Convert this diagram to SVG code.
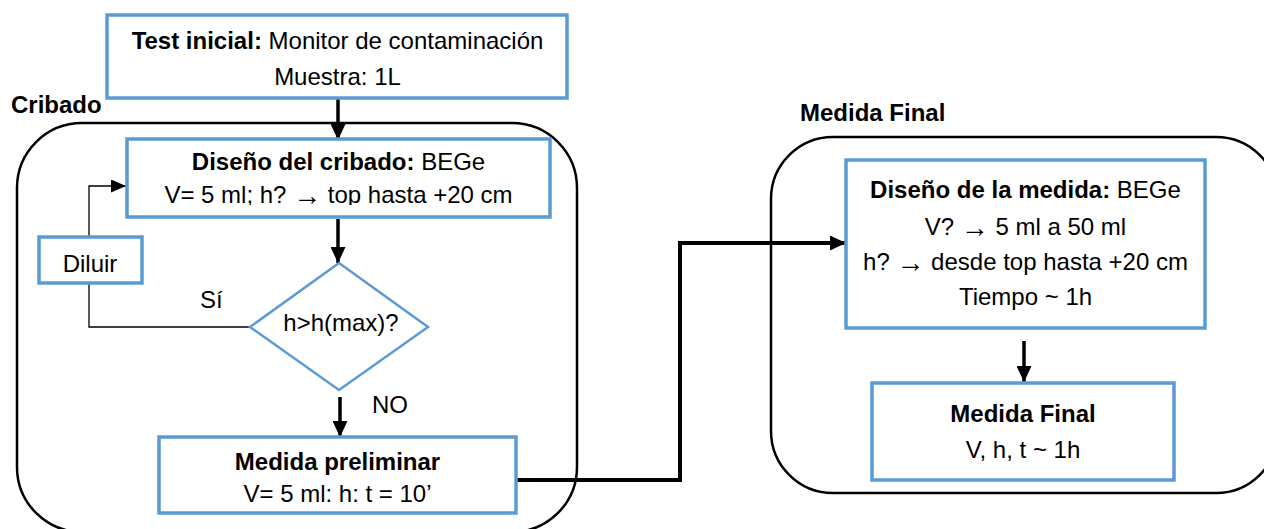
<svg xmlns="http://www.w3.org/2000/svg" width="1264" height="529" viewBox="0 0 1264 529">
<style>
text{font-family:"Liberation Sans",Arial,sans-serif;font-size:24px;fill:#000;}
.b{font-weight:bold;}
.c{text-anchor:middle;}
.ar{font-size:28px;font-weight:bold;baseline-shift:-1.5px;}
.box{fill:#fff;stroke:#5B9BD5;stroke-width:3.5;}
.dia{fill:#fff;stroke:#5B9BD5;stroke-width:2.5;}
.cont{fill:none;stroke:#000;stroke-width:2.5;}
.thick{fill:none;stroke:#000;stroke-width:3.5;}
.main{fill:none;stroke:#000;stroke-width:4;}
.thin{fill:none;stroke:#000;stroke-width:1.3;}
</style>
<defs>
<marker id="ah" markerUnits="userSpaceOnUse" markerWidth="16" markerHeight="15" refX="16" refY="7.5" orient="auto">
<path d="M0,0 L16,7.5 L0,15 z" fill="#000"/>
</marker>
<marker id="ahs" markerUnits="userSpaceOnUse" markerWidth="15" markerHeight="13" refX="15" refY="6.5" orient="auto">
<path d="M0,0 L15,6.5 L0,13 z" fill="#000"/>
</marker>
<clipPath id="clipCrib"><rect x="127" y="139" width="423" height="66"/></clipPath>
</defs>

<g id="cribado-group">
<rect class="cont" x="17" y="123" width="560" height="409" rx="65" ry="65"/>
<text class="b" x="11" y="113">Cribado</text>
</g>
<g id="medida-final-group">
<rect class="cont" x="771" y="137" width="507" height="356" rx="62" ry="62"/>
<text class="b" x="800" y="121">Medida Final</text>
</g>

<g id="connectors">
<path class="thick" d="M338,98 L338,140" marker-end="url(#ah)"/>
<path class="thick" d="M338,219 L338,263" marker-end="url(#ah)"/>
<path class="thick" d="M340,397 L340,437" marker-end="url(#ah)"/>
<path class="thin" d="M250,327 L89,327 L89,283"/>
<path class="thin" d="M89,237 L89,186 L126,186" marker-end="url(#ahs)"/>
<path class="main" d="M516,480 L680,480 L680,243 L846,243" marker-end="url(#ah)"/>
<path class="thick" d="M1024,341 L1024,382" marker-end="url(#ah)"/>
</g>

<g id="test-inicial">
<rect class="box" x="107" y="15" width="460" height="83"/>
<text class="c" x="337.5" y="49"><tspan class="b">Test inicial:</tspan> Monitor de contaminación</text>
<text class="c" x="337.5" y="85">Muestra: 1L</text>
</g>

<g id="diseno-cribado">
<rect class="box" x="127" y="139" width="423" height="78"/>
<g clip-path="url(#clipCrib)">
<text class="c" x="338.5" y="170"><tspan class="b">Diseño del cribado:</tspan> BEGe</text>
<text class="c" x="338.5" y="203">V= 5 ml; h? <tspan class="ar">→</tspan> top hasta +20 cm</text>
</g>
</g>

<g id="diluir">
<rect class="box" x="39" y="237" width="103" height="46"/>
<text class="c" x="90" y="272">Diluir</text>
</g>

<g id="decision">
<polygon class="dia" points="339,263 428,327 339,390 250,327"/>
<text class="c" x="341" y="331">h&gt;h(max)?</text>
</g>
<text x="200" y="308">Sí</text>
<text x="372" y="413">NO</text>

<g id="medida-preliminar">
<rect class="box" x="159" y="437" width="357" height="76"/>
<text class="c b" x="337.5" y="470">Medida preliminar</text>
<text class="c" x="337.5" y="502">V= 5 ml: h: t = 10’</text>
</g>

<g id="diseno-medida">
<rect class="box" x="846" y="160" width="359" height="168"/>
<text class="c" x="1025.5" y="198"><tspan class="b">Diseño de la medida:</tspan> BEGe</text>
<text class="c" x="1025.5" y="235">V? <tspan class="ar">→</tspan> 5 ml a 50 ml</text>
<text class="c" x="1025.5" y="270">h? <tspan class="ar">→</tspan> desde top hasta +20 cm</text>
<text class="c" x="1025.5" y="305">Tiempo ~ 1h</text>
</g>

<g id="medida-final">
<rect class="box" x="872" y="383" width="302" height="97"/>
<text class="c b" x="1023" y="422">Medida Final</text>
<text class="c" x="1023" y="458">V, h, t ~ 1h</text>
</g>
</svg>
